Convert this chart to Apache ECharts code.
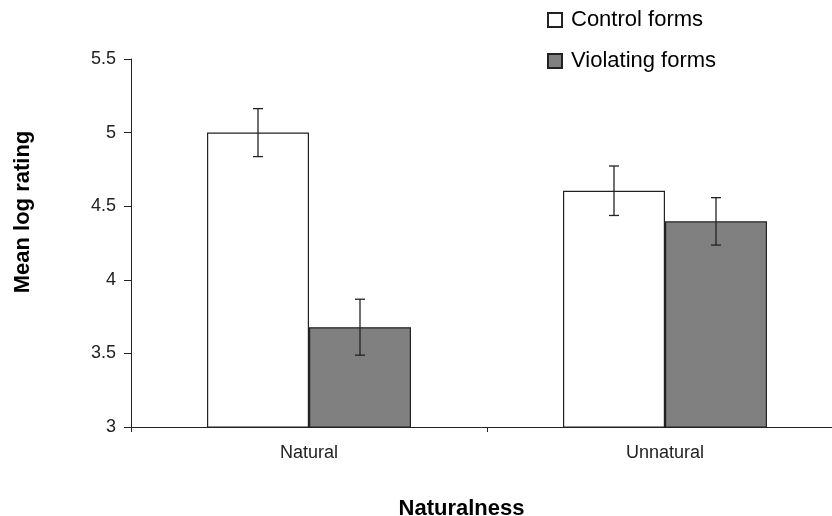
<!DOCTYPE html>
<html>
<head>
<meta charset="utf-8">
<script src="https://cdn.jsdelivr.net/npm/echarts@6/dist/echarts.min.js"></script>
<style>
html,body{margin:0;padding:0;background:#fff;}
#chart{width:832px;height:516px;}
</style>
</head>
<body>
<div id="chart"></div>
<script>
// ---- data ----
var categories = ['Natural', 'Unnatural'];
var seriesNames = ['Control forms', 'Violating forms'];
var controlMeans = [5.0, 4.605];
var violatingMeans = [3.678, 4.397];
var controlErr = [0.163, 0.168];
var violatingErr = [0.19, 0.161];
var yMin = 3, yMax = 5.5, yInterval = 0.5;

// ---- styles ----
var FONT = '"Liberation Sans", Arial, sans-serif';
var BAR_W = 102;

function errorSeries(means, errs, offset) {
  var data = means.map(function (m, i) { return [i, m, errs[i]]; });
  return {
    type: 'custom',
    silent: true,
    z: 10,
    data: data,
    renderItem: function (params, api) {
      var i = api.value(0), m = api.value(1), e = api.value(2);
      var top = api.coord([i, m + e]);
      var bot = api.coord([i, m - e]);
      var x = top[0] + offset;
      var cap = 5;
      var st = { stroke: '#222', lineWidth: 1.3 };
      return {
        type: 'group',
        children: [
          { type: 'line', shape: { x1: x, y1: top[1], x2: x, y2: bot[1] }, style: st },
          { type: 'line', shape: { x1: x - cap, y1: top[1], x2: x + cap, y2: top[1] }, style: st },
          { type: 'line', shape: { x1: x - cap, y1: bot[1], x2: x + cap, y2: bot[1] }, style: st }
        ]
      };
    }
  };
}

var chart = echarts.init(document.getElementById('chart'));
chart.setOption({
  animation: false,
  textStyle: { fontFamily: FONT },
  grid: { left: 131, top: 59, bottom: 89, right: -11, containLabel: false, outerBoundsMode: 'none' },
  legend: {
    orient: 'vertical',
    left: 542,
    top: 4,
    icon: 'rect',
    itemWidth: 14,
    itemHeight: 14,
    itemGap: 19,
    data: seriesNames,
    textStyle: { fontSize: 22, color: '#000', fontFamily: FONT, padding: [0, 0, 0, 4] }
  },
  xAxis: {
    type: 'category',
    data: categories,
    name: 'Naturalness',
    nameLocation: 'middle',
    nameGap: 71,
    nameTextStyle: { fontSize: 22, fontWeight: 'bold', color: '#000', fontFamily: FONT, padding: [0, 51, 0, 0] },
    axisLine: { lineStyle: { color: '#222', width: 1 } },
    axisTick: { show: true, length: 5, interval: 0, alignWithLabel: false, lineStyle: { color: '#222' } },
    axisLabel: { fontSize: 18, color: '#222', margin: 17, fontFamily: FONT },
    splitLine: { show: false }
  },
  yAxis: {
    type: 'value',
    min: yMin,
    max: yMax,
    interval: yInterval,
    name: 'Mean log rating',
    nameLocation: 'middle',
    nameGap: 97,
    nameTextStyle: { fontSize: 22, fontWeight: 'bold', color: '#000', fontFamily: FONT, padding: [0, 0, 0, 62] },
    axisLine: { show: true, lineStyle: { color: '#222', width: 1 } },
    axisTick: { show: true, length: 7, lineStyle: { color: '#222' } },
    axisLabel: { fontSize: 18, color: '#222', margin: 15, fontFamily: FONT },
    splitLine: { show: false }
  },
  series: [
    {
      name: seriesNames[0],
      type: 'bar',
      data: controlMeans,
      barWidth: BAR_W,
      barGap: '0%',
      itemStyle: { color: '#ffffff', borderColor: '#222', borderWidth: 1.2 }
    },
    {
      name: seriesNames[1],
      type: 'bar',
      data: violatingMeans,
      barWidth: BAR_W,
      barGap: '0%',
      itemStyle: { color: '#808080', borderColor: '#222', borderWidth: 1.2 }
    },
    errorSeries(controlMeans, controlErr, -BAR_W / 2),
    errorSeries(violatingMeans, violatingErr, BAR_W / 2)
  ]
});
</script>
</body>
</html>
